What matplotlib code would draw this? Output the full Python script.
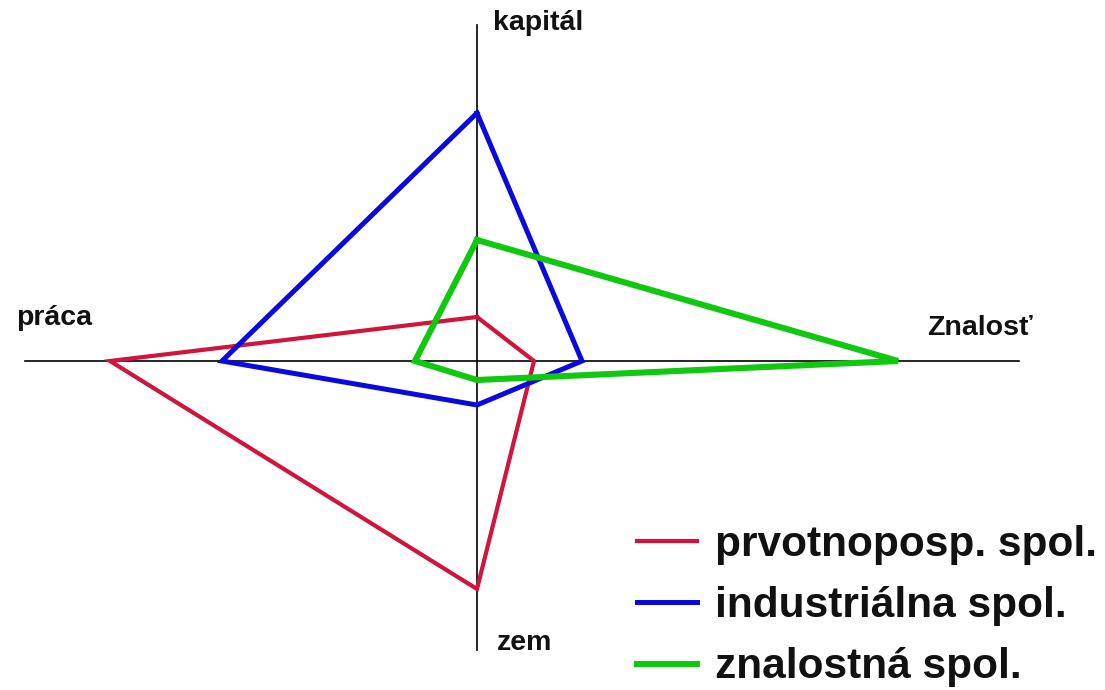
import matplotlib
matplotlib.use("Agg")
import matplotlib.pyplot as plt
import numpy as np

# Axis names (direction order: up, right, down, left)
dimensions = ["kapitál", "Znalosť", "zem", "práca"]
series_names = ["prvotnoposp. spol.", "industriálna spol.", "znalostná spol."]
prvotnoposp = [44, 57, 228, 367]
industrialna = [248, 105, 44, 255]
znalostna = [121, 421, 19, 62]

series_values = [prvotnoposp, industrialna, znalostna]
colors = ["#D0143C", "#0A0ADC", "#10C810"]
widths = [3.0, 3.6, 4.4]

plt.rcParams["font.family"] = ["Liberation Sans", "DejaVu Sans"]

W, H = 1105, 690
fig = plt.figure(figsize=(W / 100, H / 100), dpi=100)
ax = fig.add_axes([0, 0, 1, 1])
cx, cy = 477, 361  # centre in pixels from left/top
ax.set_xlim(-cx, W - cx)
ax.set_ylim(-(H - cy), cy)
ax.axis("off")

# axis cross
ax.plot([-452, 542], [0, 0], color="black", lw=1.2, zorder=1)
ax.plot([0, 0], [-289, 336], color="black", lw=1.2, zorder=1)

dirs = np.array([[0, 1], [1, 0], [0, -1], [-1, 0]])

for name, vals, c, lw in zip(series_names, series_values, colors, widths):
    pts = dirs * np.array(vals)[:, None]
    pts = np.vstack([pts, pts[:1]])
    ax.plot(pts[:, 0], pts[:, 1], color=c, lw=lw, label=name,
            solid_joinstyle="miter", zorder=2)

lab_kw = dict(fontsize=20.5, fontweight="bold", color="#111111")
ax.text(16, 338, dimensions[0], ha="left", va="center", **lab_kw)
ax.text(450, 33, dimensions[1], ha="left", va="center", **lab_kw)
ax.text(20, -282, dimensions[2], ha="left", va="center", **lab_kw)
ax.text(-461, 43, dimensions[3], ha="left", va="center", **lab_kw)

leg = ax.legend(loc="upper left", bbox_to_anchor=(637 / W, 1 - 525 / H),
                bbox_transform=fig.transFigure, frameon=False,
                prop=dict(family="Liberation Sans", weight="bold", size=30.5),
                handlelength=1.42, handletextpad=0.43, labelspacing=0.5,
                borderpad=0, borderaxespad=0)
for t in leg.get_texts():
    t.set_color("#111111")

fig.savefig("out.png", dpi=100)
